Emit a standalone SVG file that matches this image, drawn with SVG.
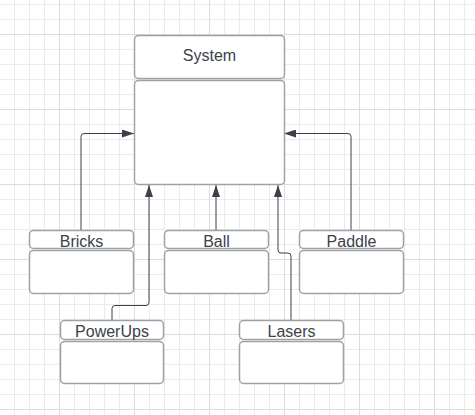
<svg xmlns="http://www.w3.org/2000/svg" width="475" height="415" viewBox="0 0 475 415">
  <defs>
    <pattern id="minor" x="14" y="4" width="15" height="15" patternUnits="userSpaceOnUse">
      <path d="M0.5 0V15M0 0.5H15" stroke="#ebebeb" stroke-width="1" fill="none"/>
    </pattern>
    <pattern id="major" x="59" y="34" width="75" height="75" patternUnits="userSpaceOnUse">
      <path d="M0.5 0V75M0 0.5H75" stroke="#dcdcdc" stroke-width="1" fill="none"/>
    </pattern>
    <marker id="arrow" markerWidth="12" markerHeight="8" refX="12" refY="4" orient="auto" markerUnits="userSpaceOnUse">
      <path d="M0 0L12 4L0 8Z" fill="#3a414a"/>
    </marker>
    <style>
      .box { fill: #ffffff; stroke: #9ea2a7; stroke-width: 1.5; }
      .label { font-family: "Liberation Sans", Arial, sans-serif; font-size: 16px; fill: #3a414a; text-anchor: middle; }
      .conn { fill: none; stroke: #3a414a; stroke-width: 1; marker-end: url(#arrow); }
    </style>
  </defs>
  <rect width="475" height="415" fill="#ffffff"/>
  <rect width="475" height="415" fill="url(#minor)"/>
  <rect width="475" height="415" fill="url(#major)"/>

  <g id="connectors">
    <path class="conn" d="M81 230V136.5Q81 133.5 84 133.5H134"/>
    <path class="conn" d="M351 230V136.5Q351 133.5 348 133.5H284"/>
    <path class="conn" d="M216 230V185"/>
    <path class="conn" d="M112 320V308.5Q112 305.5 115 305.5H146Q149 305.5 149 302.5V185"/>
    <path class="conn" d="M291 320V256Q291 253 288 253H281Q278 253 278 250V185"/>
  </g>

  <g id="system">
    <rect class="box" x="134.5" y="35.5" width="150" height="43" rx="4"/>
    <rect class="box" x="134.5" y="80.5" width="150" height="104" rx="4"/>
    <text class="label" x="209.5" y="61">System</text>
  </g>
  <g id="bricks">
    <rect class="box" x="29.5" y="230.5" width="104" height="18" rx="4"/>
    <rect class="box" x="29.5" y="250.5" width="104" height="43" rx="4"/>
    <text class="label" x="81.5" y="247">Bricks</text>
  </g>
  <g id="ball">
    <rect class="box" x="164.5" y="230.5" width="104" height="18" rx="4"/>
    <rect class="box" x="164.5" y="250.5" width="104" height="43" rx="4"/>
    <text class="label" x="216.5" y="247">Ball</text>
  </g>
  <g id="paddle">
    <rect class="box" x="299.5" y="230.5" width="104" height="18" rx="4"/>
    <rect class="box" x="299.5" y="250.5" width="104" height="43" rx="4"/>
    <text class="label" x="351.5" y="247">Paddle</text>
  </g>
  <g id="powerups">
    <rect class="box" x="60.5" y="320.5" width="103" height="19" rx="4"/>
    <rect class="box" x="60.5" y="341.5" width="103" height="42" rx="4"/>
    <text class="label" x="112" y="337">PowerUps</text>
  </g>
  <g id="lasers">
    <rect class="box" x="239.5" y="320.5" width="104" height="19" rx="4"/>
    <rect class="box" x="239.5" y="341.5" width="104" height="42" rx="4"/>
    <text class="label" x="291.5" y="337">Lasers</text>
  </g>
</svg>
